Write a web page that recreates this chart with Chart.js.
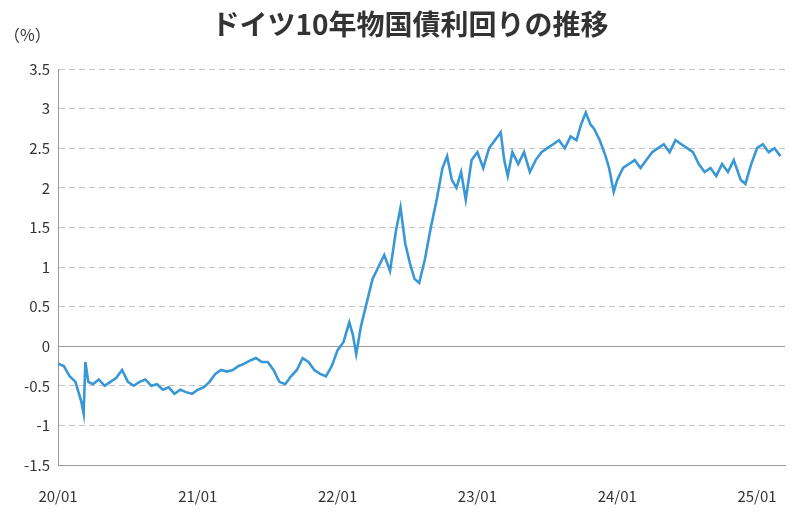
<!DOCTYPE html>
<html>
<head>
<meta charset="utf-8">
<script src="https://cdn.jsdelivr.net/npm/chart.js@4"></script>
<style>
  body { margin: 0; background: #fff; }
  #wrap { width: 800px; height: 515px; position: relative; }
</style>
</head>
<body>
<div id="wrap"><canvas id="chart"></canvas></div>
<script>
// months since 2020/01 and yield (%)
const months = [0, 0.5, 1, 1.5, 2, 2.2, 2.35, 2.6, 3, 3.5, 4, 4.5, 5, 5.5, 6, 6.5, 7, 7.5, 8, 8.5, 9, 9.5, 10, 10.5, 11, 11.5,
  12, 12.5, 13, 13.5, 14, 14.5, 15, 15.5, 16, 16.5, 17, 17.5, 18, 18.5, 19, 19.5, 20, 20.5, 21, 21.5, 22, 22.5, 23, 23.5,
  24, 24.5, 25, 25.3, 25.6, 26, 26.5, 27, 27.5, 28, 28.5, 29, 29.4, 29.8, 30.2, 30.6, 31, 31.5, 32, 32.5, 33, 33.4, 33.8, 34.2, 34.6, 35, 35.5,
  36, 36.5, 37, 37.5, 38, 38.3, 38.6, 39, 39.5, 40, 40.5, 41, 41.5, 42, 42.5, 43, 43.5, 44, 44.5, 44.9, 45.3, 45.7, 46, 46.5, 47, 47.3, 47.7,
  48, 48.5, 49, 49.5, 50, 50.5, 51, 51.5, 52, 52.5, 53, 53.5, 54, 54.5, 55, 55.5, 56, 56.5, 57, 57.5, 58, 58.6,
  59, 59.5, 60, 60.5, 61, 61.5, 62];
const yields = [-0.22, -0.25, -0.38, -0.45, -0.7, -0.85, -0.2, -0.45, -0.48, -0.42, -0.5, -0.45, -0.4, -0.3, -0.45, -0.5, -0.45, -0.42, -0.5, -0.48, -0.55, -0.52, -0.6, -0.55, -0.58, -0.6,
  -0.55, -0.52, -0.45, -0.35, -0.3, -0.32, -0.3, -0.25, -0.22, -0.18, -0.15, -0.2, -0.2, -0.3, -0.45, -0.48, -0.38, -0.3, -0.15, -0.2, -0.3, -0.35, -0.38, -0.25,
  -0.05, 0.05, 0.3, 0.15, -0.1, 0.25, 0.55, 0.85, 1.0, 1.15, 0.95, 1.45, 1.75, 1.3, 1.05, 0.85, 0.8, 1.1, 1.5, 1.85, 2.25, 2.4, 2.1, 2.0, 2.2, 1.85, 2.35,
  2.45, 2.25, 2.5, 2.6, 2.7, 2.35, 2.15, 2.45, 2.3, 2.45, 2.2, 2.35, 2.45, 2.5, 2.55, 2.6, 2.5, 2.65, 2.6, 2.8, 2.95, 2.8, 2.75, 2.6, 2.4, 2.25, 1.95,
  2.1, 2.25, 2.3, 2.35, 2.25, 2.35, 2.45, 2.5, 2.55, 2.45, 2.6, 2.55, 2.5, 2.45, 2.3, 2.2, 2.25, 2.15, 2.3, 2.2, 2.35, 2.1, 2.05,
  2.3, 2.5, 2.55, 2.45, 2.5, 2.4, 2.8];
const yTicks = [3.5, 3, 2.5, 2, 1.5, 1, 0.5, 0, -0.5, -1, -1.5];
const xTickLabels = ['20/01', '21/01', '22/01', '23/01', '24/01', '25/01'];

const FONT = '"Noto Sans CJK JP", "Noto Sans", sans-serif';

const headerPlugin = {
  id: 'header',
  afterDraw(chart) {
    const ctx = chart.ctx;
    ctx.save();
    ctx.fillStyle = '#333';
    ctx.font = 'bold 28px ' + FONT;
    ctx.textAlign = 'center';
    ctx.textBaseline = 'middle';
    ctx.fillText('ドイツ10年物国債利回りの推移', 410, 24);
    ctx.font = '16px ' + FONT;
    ctx.textAlign = 'left';
    ctx.fillText('（%）', 4, 35);
    ctx.restore();
  }
};

new Chart(document.getElementById('chart'), {
  type: 'line',
  data: {
    datasets: [{
      data: months.map((m, i) => ({ x: m, y: yields[i] })),
      borderColor: '#3a97d6',
      borderWidth: 2.6,
      pointRadius: 0,
      tension: 0,
      fill: false
    }]
  },
  options: {
    responsive: true,
    maintainAspectRatio: false,
    animation: false,
    layout: { padding: { top: 69, right: 15, bottom: 8, left: 0 } },
    plugins: { legend: { display: false }, tooltip: { enabled: false } },
    scales: {
      x: {
        type: 'linear',
        min: 0,
        max: 62.4,
        afterBuildTicks: s => { s.ticks = xTickLabels.map((_, i) => ({ value: i * 12 })); },
        ticks: {
          callback: (v) => xTickLabels[v / 12],
          color: '#333',
          font: { size: 15, family: FONT },
          maxRotation: 0,
          padding: 14
        },
        grid: { display: false },
        border: { color: '#999' },
        afterFit: s => { s.height = 42; }
      },
      y: {
        min: -1.5,
        max: 3.5,
        afterBuildTicks: s => { s.ticks = yTicks.map(v => ({ value: v })); },
        ticks: {
          callback: v => String(v),
          color: '#333',
          font: { size: 15, family: FONT },
          padding: 8
        },
        grid: {
          color: ctx => ctx.tick && ctx.tick.value === 0 ? '#999' : '#c4c4c4',
          lineWidth: 1,
          drawTicks: false
        },
        border: {
          color: '#999',
          dash: ctx => ctx.tick && ctx.tick.value === 0 ? [] : [6, 4]
        },
        afterFit: s => { s.width = 58; }
      }
    }
  },
  plugins: [headerPlugin]
});
</script>
</body>
</html>
